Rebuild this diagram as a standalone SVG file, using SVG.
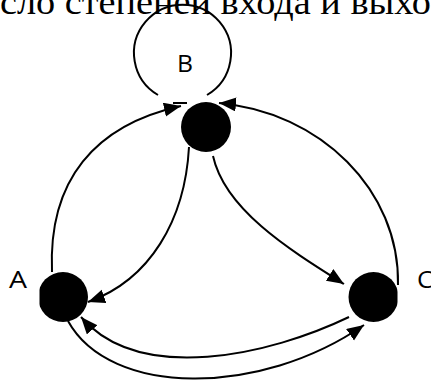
<svg xmlns="http://www.w3.org/2000/svg" width="431" height="383" viewBox="0 0 431 383">
<style>
.edge{fill:none;stroke:#000;stroke-width:2}
.node{fill:#000}
.lbl{font-family:"Open Sans","Liberation Sans",sans-serif;font-size:24px;fill:#000}
.title{font-family:"Liberation Serif","Times New Roman",serif;font-size:36px;fill:#000}
</style>
<defs>
<marker id="arr" markerUnits="userSpaceOnUse" markerWidth="20" markerHeight="16" refX="17" refY="7" orient="auto">
<path d="M0,0 L17,7 L0,14 z" fill="#000"/>
</marker>
<clipPath id="clipA"><rect x="39.5" y="260" width="60" height="70"/></clipPath>
<clipPath id="clipC"><rect x="340" y="260" width="57.5" height="70"/></clipPath>
</defs>
<rect width="431" height="383" fill="#fff"/>
<text class="title" x="0" y="13.5" textLength="431" lengthAdjust="spacingAndGlyphs">сло степеней входа и выхо</text>
<g id="connectors">
<path class="edge" d="M158,95 A48.5,48.5 0 1 1 207,95"/>
<line class="edge" x1="173" y1="103" x2="187" y2="103"/>
<path class="edge" marker-end="url(#arr)" d="M52,272 C48,180 95,125 181,106"/>
<path class="edge" marker-end="url(#arr)" d="M398,285 C400,190 320,112 219,103"/>
<path class="edge" marker-end="url(#arr)" d="M189,147 C185,220 150,280 88,302"/>
<path class="edge" marker-end="url(#arr)" d="M213,156 C225,210 290,250 344,284"/>
<path class="edge" marker-end="url(#arr)" d="M349,317 C270,355 140,385 81,317"/>
<path class="edge" marker-end="url(#arr)" d="M68,321 C110,397 260,397 364,325"/>
</g>
<g id="node-B">
<circle class="node" cx="206" cy="127" r="25"/>
<text class="lbl" x="177" y="72" textLength="16" lengthAdjust="spacingAndGlyphs">B</text>
</g>
<g id="node-A">
<circle class="node" cx="63" cy="297" r="25" clip-path="url(#clipA)"/>
<text class="lbl" x="9" y="288" textLength="18" lengthAdjust="spacingAndGlyphs">A</text>
</g>
<g id="node-C">
<circle class="node" cx="373.5" cy="297" r="25" clip-path="url(#clipC)"/>
<text class="lbl" x="417" y="288" textLength="16" lengthAdjust="spacingAndGlyphs">C</text>
</g>
</svg>
